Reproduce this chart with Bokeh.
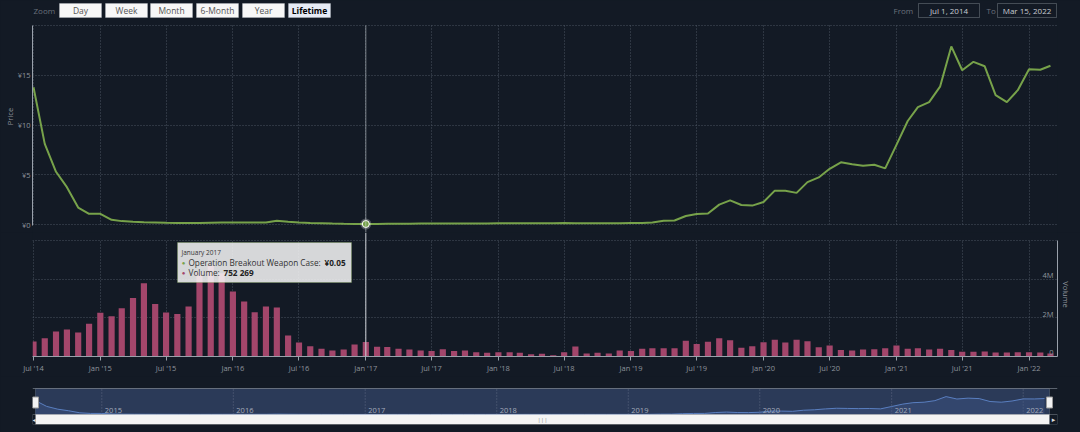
import pandas as pd
from bokeh.plotting import figure
from bokeh.layouts import column
from bokeh.models import (Range1d, FixedTicker, MonthsTicker, DatetimeTickFormatter,
                          CustomJSTickFormatter, Span, Label, BoxAnnotation, Grid)
from bokeh.embed import file_html
from bokeh.resources import INLINE


def ms(t):
    return pd.Timestamp(t).timestamp() * 1000.0


# ---------------- data ----------------
months = pd.date_range("2014-07-01", periods=93, freq="MS")

price = [13.8, 8.1, 5.3, 3.75, 1.7, 1.07, 1.07, 0.47, 0.34, 0.27, 0.23, 0.2,
         0.17, 0.15, 0.14, 0.15, 0.17, 0.19, 0.2, 0.2, 0.19, 0.2, 0.37, 0.27,
         0.2, 0.15, 0.12, 0.09, 0.07, 0.06, 0.05, 0.06, 0.07, 0.08, 0.08, 0.09,
         0.09, 0.1, 0.1, 0.11, 0.11, 0.11, 0.12, 0.12, 0.12, 0.13, 0.13, 0.13,
         0.14, 0.13, 0.13, 0.13, 0.13, 0.13, 0.14, 0.14, 0.2, 0.37, 0.4, 0.85,
         1.05, 1.1, 2.0, 2.43, 1.96, 1.9, 2.26, 3.4, 3.4, 3.18, 4.26, 4.73,
         5.6, 6.25, 6.05, 5.9, 6.0, 5.64, 8.0, 10.4, 11.8, 12.3, 13.85, 17.9,
         15.5, 16.35, 15.9, 13.0, 12.3, 13.5, 15.6, 15.55, 15.95]

volume = [780000, 950000, 1290000, 1400000, 1240000, 1700000, 2260000, 2080000,
          2500000, 3030000, 3790000, 2720000, 2270000, 2200000, 2580000, 4400000,
          4700000, 4300000, 3360000, 2840000, 2290000, 2580000, 2530000, 1090000,
          720000, 530000, 400000, 310000, 360000, 620000, 752269, 510000,
          490000, 400000, 360000, 310000, 280000, 380000, 280000, 310000,
          220000, 190000, 220000, 220000, 190000, 120000, 140000, 70000,
          220000, 520000, 160000, 190000, 160000, 310000, 280000, 400000,
          430000, 430000, 430000, 810000, 650000, 760000, 950000, 840000,
          450000, 530000, 740000, 860000, 720000, 860000, 790000, 480000,
          570000, 340000, 310000, 360000, 380000, 430000, 570000, 400000,
          430000, 360000, 400000, 330000, 240000, 240000, 260000, 210000,
          210000, 220000, 220000, 210000, 150000]

price_ticks = [0, 5, 10, 15, 20]
price_tick_labels = ["¥0", "¥5", "¥10", "¥15", ""]
volume_ticks = [0, 2000000, 4000000, 6000000]
volume_tick_labels = ["0", "2M", "4M", ""]
nav_years = ["2015", "2016", "2017", "2018", "2019", "2020", "2021", "2022"]
zoom_buttons = ["Day", "Week", "Month", "6-Month", "Year", "Lifetime"]
selected_button = "Lifetime"
range_from_text = "Jul 1, 2014"
range_to_text = "Mar 15, 2022"
range_from = "2014-07-01"
range_to = "2022-03-15"
series_name = "Operation Breakout Weapon Case"
HOVER = 30

# ---------------- style / layout constants ----------------
BG = "#131a25"
GRID = "#4a5261"
AX_LINE = "#9aa1ab"
AX_TXT = "#8e949c"
GREEN = "#77a24a"
PINK = "#a3466b"
XHAIR = "#cfd3d9"
FONT = "Open Sans"
FS = "7.5px"
W = 1080
FRAME_L, FRAME_R = 32, 1057          # plot frame (canvas px)
FIRST_PX, PX_PER_DAY = 33, 0.3632    # where the first month sits, scale
DAY_MS = 24 * 3600 * 1000.0

t0 = ms(months[0])
xr = Range1d(start=t0 - (FIRST_PX - FRAME_L) / PX_PER_DAY * DAY_MS,
             end=t0 + (FRAME_R - FIRST_PX) / PX_PER_DAY * DAY_MS)

# price panel: canvas 0..232, price 20 at y=25, price 0 at y=224
A_H, A_TOP20, A_ZERO = 232, 25, 224
a_k = (A_ZERO - A_TOP20) / 20.0
a_range = Range1d(0 - (A_H - A_ZERO) / a_k, 20 + A_TOP20 / a_k)
# volume panel: canvas 232..376, frame 232..356, 6M at 240
B_H, B_BOTTOM_BORDER = 144, 20
b_k = (356 - 240) / 6000000.0
b_range = Range1d(0, 6000000 + (240 - 232) / b_k)

HAS_CROSS = "cross_bounds" in Grid.properties()
jan_jul = [ms(m) for m in months if m.month in (1, 7)]


def base(height, y_range, **kw):
    p = figure(width=W, height=height, x_range=xr, y_range=y_range, x_axis_type="datetime",
               toolbar_location=None, output_backend="svg",
               background_fill_color=BG, border_fill_color=BG,
               outline_line_color=None, min_border_left=FRAME_L,
               min_border_right=W - FRAME_R, **kw)
    p.grid.visible = False
    return p


def add_grids(p, yticks):
    lo, hi = yticks[0], yticks[-1]
    if HAS_CROSS:
        p.add_layout(Grid(dimension=0, ticker=MonthsTicker(months=[0, 6]), cross_bounds=(lo, hi),
                          grid_line_color=GRID, grid_line_dash="1 2", grid_line_width=1))
    else:
        p.segment(x0=jan_jul, x1=jan_jul, y0=[lo] * len(jan_jul), y1=[hi] * len(jan_jul),
                  line_color=GRID, line_dash="1 2", line_width=1)
    p.add_layout(Grid(dimension=1, ticker=FixedTicker(ticks=yticks),
                      grid_line_color=GRID, grid_line_dash="1 2", grid_line_width=1))


def canvas_box(p, l, r, t, b, **kw):
    p.add_layout(BoxAnnotation(left=l, right=r, top=t, bottom=b,
                               left_units="canvas", right_units="canvas",
                               top_units="canvas", bottom_units="canvas", **kw))


def canvas_label(p, x, y, text, **kw):
    opts = dict(text_font=FONT, text_font_size="8px", text_baseline="middle")
    opts.update(kw)
    p.add_layout(Label(x=x, y=y, x_units="canvas", y_units="canvas", text=text, **opts))


hover_t = ms(months[HOVER])

# ---------------- price panel ----------------
pA = base(A_H, a_range, x_axis_location=None, y_axis_location="left",
          min_border_top=0, min_border_bottom=0)
add_grids(pA, price_ticks)
ya = pA.yaxis[0]
ya.ticker = FixedTicker(ticks=price_ticks)
ya.bounds = (-0.1, 20)
ya.major_label_overrides = dict(zip(price_ticks, price_tick_labels))
ya.axis_line_color = AX_LINE
ya.major_tick_out = 0
ya.major_tick_in = 0
ya.minor_tick_out = 0
ya.minor_tick_in = 0
ya.major_label_standoff = 2
ya.major_label_text_font = FONT
ya.major_label_text_font_size = FS
ya.major_label_text_color = AX_TXT
ya.axis_label = "Price"
ya.axis_label_standoff = 0
ya.axis_label_text_font = FONT
ya.axis_label_text_font_size = FS
ya.axis_label_text_font_style = "normal"
ya.axis_label_text_color = AX_TXT

# crosshair: from the top of the price scale down through the panel gap
pA.add_layout(BoxAnnotation(left=hover_t, right=hover_t, top=20, bottom=a_range.start,
                            fill_alpha=0, line_color=XHAIR, line_width=1))
pA.line(months, price, line_color=GREEN, line_width=2)
pA.scatter([months[HOVER]], [price[HOVER]], size=11, fill_color="#ffffff", fill_alpha=0.25,
           line_color=None)
pA.scatter([months[HOVER]], [price[HOVER]], size=7, fill_color=GREEN,
           line_color="#ffffff", line_width=1)

# toolbar (zoom buttons, date range)
canvas_label(pA, 33, 10, "Zoom", text_color="#6a717c")
button_left = [59, 105, 150, 196, 242, 288]
for name, bx in zip(zoom_buttons, button_left):
    sel = name == selected_button
    canvas_box(pA, bx, bx + 42, 3, 17, fill_color="#e6ebf5" if sel else "#f7f7f7",
               fill_alpha=1, line_color="#d0d4da", line_width=1)
    canvas_label(pA, bx + 21, 10, name, text_align="center", text_font_size="8.5px",
                 text_color="#000000" if sel else "#555555",
                 text_font_style="bold" if sel else "normal")

canvas_label(pA, 893, 10, "From", text_color="#6a717c")
canvas_box(pA, 918, 979, 3, 17, fill_color=BG, fill_alpha=1, line_color="#b9bfc7", line_width=1)
canvas_label(pA, 948.5, 10, range_from_text, text_align="center", text_color="#c8ccd2")
canvas_label(pA, 986, 10, "To", text_color="#6a717c")
canvas_box(pA, 997, 1056, 3, 17, fill_color=BG, fill_alpha=1, line_color="#b9bfc7", line_width=1)
canvas_label(pA, 1026.5, 10, range_to_text, text_align="center", text_color="#c8ccd2")

# ---------------- volume panel ----------------
pB = base(B_H, b_range, y_axis_location="right",
          min_border_top=0, min_border_bottom=B_BOTTOM_BORDER)
add_grids(pB, volume_ticks)
xa = pB.xaxis[0]
xa.ticker = MonthsTicker(months=[0, 6])
fmt = "%b '%y"
xa.formatter = DatetimeTickFormatter(days=fmt, months=fmt, years=fmt)
xa.axis_line_color = AX_LINE
xa.major_tick_line_color = AX_LINE
xa.major_tick_out = 4
xa.major_tick_in = 0
xa.minor_tick_out = 0
xa.minor_tick_in = 0
xa.major_label_standoff = 2
xa.major_label_text_font = FONT
xa.major_label_text_font_size = FS
xa.major_label_text_color = AX_TXT

yb = pB.yaxis[0]
yb.ticker = FixedTicker(ticks=volume_ticks)
yb.bounds = (0, 6000000)
yb.formatter = CustomJSTickFormatter(code="return ''")
yb.axis_line_color = AX_LINE
yb.major_tick_out = 0
yb.major_tick_in = 0
yb.minor_tick_out = 0
yb.minor_tick_in = 0
yb.major_label_standoff = 0
yb.axis_label = "Volume"
yb.axis_label_standoff = 3
yb.axis_label_text_font = FONT
yb.axis_label_text_font_size = FS
yb.axis_label_text_font_style = "normal"
yb.axis_label_text_color = AX_TXT
for v, t in zip(volume_ticks, volume_tick_labels):
    if t:
        pB.add_layout(Label(x=xr.end, y=v, x_offset=-4, y_offset=4, text=t,
                            text_align="right", text_baseline="middle",
                            text_font=FONT, text_font_size=FS, text_color=AX_TXT))

pB.vbar(x=months, top=volume, width=17 * DAY_MS, fill_color=PINK, line_color=None)
pB.add_layout(Span(location=hover_t, dimension="height", line_color=XHAIR, line_width=1))

# tooltip
canvas_box(pB, 177, 351, 10, 50, fill_color="#f7f7f7", fill_alpha=0.86,
           line_color=GREEN, line_width=1)
canvas_label(pB, 181, 20, months[HOVER].strftime("%B %Y"), text_font_size="6.5px",
             text_color="#333333")
canvas_label(pB, 183, 30, "●", text_font_size="6px", text_color=GREEN, text_align="center")
canvas_label(pB, 188, 30, series_name + ": ", text_font_size="8.2px", text_color="#333333")
canvas_label(pB, 324, 30, "¥%.2f" % price[HOVER], text_font_size="8.2px",
             text_color="#222222", text_font_style="bold")
canvas_label(pB, 183, 40, "●", text_font_size="6px", text_color=PINK, text_align="center")
canvas_label(pB, 188, 40, "Volume: ", text_font_size="8.2px", text_color="#333333")
canvas_label(pB, 223, 40, "{:,}".format(volume[HOVER]).replace(",", " "),
             text_font_size="8.2px", text_color="#222222", text_font_style="bold")

# ---------------- navigator ----------------
f_ms, t_ms = ms(range_from), ms(range_to)
nav_k = (t_ms - f_ms) / 1014.0           # ms per px: mask spans 35..1049
xn = Range1d(start=f_ms - (35 - FRAME_L) * nav_k, end=t_ms + (FRAME_R - 1049) * nav_k)
pC = figure(width=W, height=56, x_range=xn, y_range=Range1d(-10, 26),
            x_axis_type="datetime", x_axis_location=None, y_axis_location=None,
            toolbar_location=None, output_backend="svg",
            background_fill_color=BG, border_fill_color=BG, outline_line_color=None,
            min_border_left=FRAME_L, min_border_right=W - FRAME_R,
            min_border_top=12, min_border_bottom=8)
pC.grid.visible = False
pC.add_layout(BoxAnnotation(left=f_ms, right=t_ms, bottom=0, top=26, level="underlay",
                            fill_color="#2b3a58", fill_alpha=1,
                            line_color="#8b94a4", line_width=1))
pC.add_layout(Span(location=26, dimension="width", line_color="#a4abb8", line_width=1))
year_t = [ms(y + "-01-01") for y in nav_years]
pC.segment(x0=year_t, y0=[0] * len(year_t), x1=year_t, y1=[26] * len(year_t),
           line_color="#5d6780", line_dash="1 2", line_width=1)
pC.varea(x=months, y1=[0] * len(price), y2=price, fill_color="#3d5688", fill_alpha=0.45)
pC.line(months, price, line_color="#5a7fc0", line_width=1)
for y, t in zip(nav_years, year_t):
    pC.add_layout(Label(x=t, y=0, x_offset=3, y_offset=2, text=y, text_baseline="bottom",
                        text_font=FONT, text_font_size=FS, text_color="#a3abba"))
# scrollbar
pC.add_layout(BoxAnnotation(left=f_ms, right=t_ms, bottom=-10, top=0,
                            fill_color="#f4f4f4", fill_alpha=1,
                            line_color="#c8c8c8", line_width=1))
pC.add_layout(BoxAnnotation(left=xn.start, right=f_ms, bottom=-10, top=0,
                            fill_color=BG, fill_alpha=1, line_color="#d0d4da", line_width=1))
pC.add_layout(BoxAnnotation(left=t_ms, right=xn.end, bottom=-10, top=0,
                            fill_color=BG, fill_alpha=1, line_color="#d0d4da", line_width=1))
pC.add_layout(Label(x=(xn.start + f_ms) / 2, y=-5, text="◂", text_align="center",
                    text_baseline="middle", text_font="DejaVu Sans", text_font_size="6px",
                    text_color="#dddddd"))
pC.add_layout(Label(x=(xn.end + t_ms) / 2, y=-5, text="▸", text_align="center",
                    text_baseline="middle", text_font="DejaVu Sans", text_font_size="7px",
                    text_color="#dddddd"))
pC.add_layout(Label(x=(f_ms + t_ms) / 2, y=-5, text="|||", text_align="center",
                    text_baseline="middle", text_font=FONT, text_font_size="6px",
                    text_color="#888888"))
pC.rect(x=[f_ms, t_ms], y=[12, 12], width=6, height=11, width_units="screen",
        height_units="screen", fill_color="#f2f2f2", line_color="#999999", line_width=1)

layout = column(pA, pB, pC, spacing=0)
html = file_html(layout, INLINE, title="Price history")
html = html.replace("<body>", '<body style="background-color:%s;">' % BG)
open("out.html", "w").write(html)
